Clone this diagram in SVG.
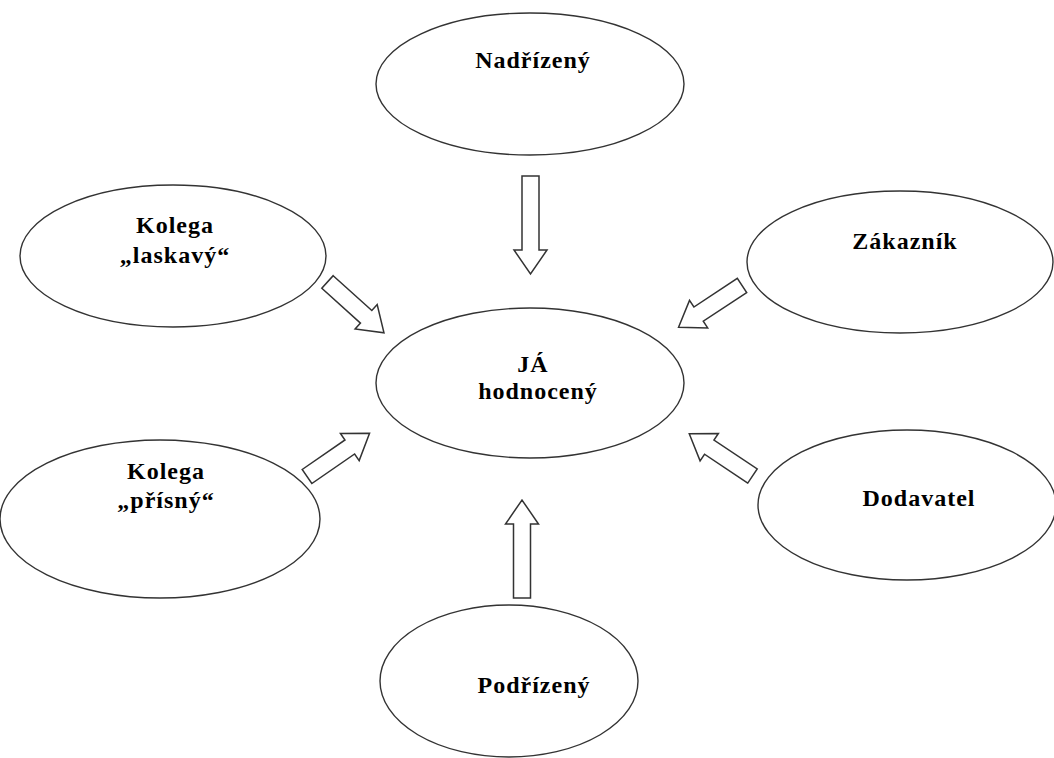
<svg xmlns="http://www.w3.org/2000/svg" width="1054" height="758" viewBox="0 0 1054 758">
<style>
.node ellipse{fill:#fff;stroke:#333;stroke-width:1.4}
.lbl{font-family:"Liberation Serif","Times New Roman",serif;font-weight:bold;font-size:24px;fill:#000;text-anchor:middle;letter-spacing:1px}
.arr{fill:#fff;stroke:#333;stroke-width:1.5;stroke-linejoin:miter}
</style>
<defs>
<path id="arrD" d="M0,-8.5 L52,-8.5 L52,-16.5 L76,0 L52,16.5 L52,8.5 L0,8.5 Z"/>
<path id="arrV" d="M0,-8.5 L74,-8.5 L74,-16.5 L98,0 L74,16.5 L74,8.5 L0,8.5 Z"/>
</defs>
<rect width="1054" height="758" fill="#fff"/>
<g id="connectors">
<use href="#arrV" class="arr" transform="translate(530.5,176) rotate(90)"/>
<use href="#arrV" class="arr" transform="translate(522,598) rotate(-90)"/>
<use href="#arrD" class="arr" transform="translate(327.5,282) rotate(42)"/>
<use href="#arrD" class="arr" transform="translate(742,285.5) rotate(146.6)"/>
<use href="#arrD" class="arr" transform="translate(307,476.5) rotate(-34.6)"/>
<use href="#arrD" class="arr" transform="translate(752.5,476) rotate(-146.3)"/>
</g>
<g id="nadrizeny" class="node">
<ellipse cx="530" cy="84" rx="154" ry="71"/>
<text class="lbl" x="533" y="68">Nadřízený</text>
</g>
<g id="kolega-laskavy" class="node">
<ellipse cx="173" cy="256" rx="153" ry="71"/>
<text class="lbl" x="175" y="233">Kolega</text>
<text class="lbl" x="175" y="263">„laskavý“</text>
</g>
<g id="zakaznik" class="node">
<ellipse cx="900" cy="262" rx="153" ry="71"/>
<text class="lbl" x="905" y="249">Zákazník</text>
</g>
<g id="ja" class="node">
<ellipse cx="530" cy="383" rx="154" ry="75"/>
<text class="lbl" x="533" y="372">JÁ</text>
<text class="lbl" x="538" y="399">hodnocený</text>
</g>
<g id="kolega-prisny" class="node">
<ellipse cx="160" cy="519" rx="160" ry="79"/>
<text class="lbl" x="166" y="479">Kolega</text>
<text class="lbl" x="166" y="508">„přísný“</text>
</g>
<g id="dodavatel" class="node">
<ellipse cx="907" cy="505" rx="149" ry="75"/>
<text class="lbl" x="919" y="506">Dodavatel</text>
</g>
<g id="podrizeny" class="node">
<ellipse cx="509" cy="681" rx="129" ry="76"/>
<text class="lbl" x="534" y="693">Podřízený</text>
</g>
</svg>
